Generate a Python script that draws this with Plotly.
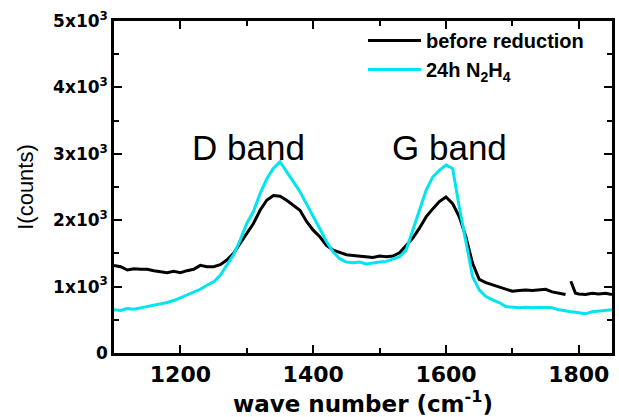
import plotly.graph_objects as go

wavenumber = [1100, 1110, 1120, 1130, 1140, 1150, 1160, 1170, 1180, 1190,
              1200, 1210, 1220, 1230, 1240, 1250, 1260, 1270, 1280, 1290,
              1300, 1310, 1320, 1330, 1340, 1350, 1360, 1370, 1380, 1390,
              1400, 1410, 1420, 1430, 1440, 1450, 1460, 1470, 1480, 1490,
              1500, 1510, 1520, 1530, 1540, 1550, 1560, 1570, 1580, 1590,
              1600, 1610, 1620, 1630, 1640, 1650, 1660, 1670, 1680, 1690,
              1700, 1710, 1720, 1730, 1740, 1750, 1760, 1770, 1780, 1784,
              1788, 1795, 1800, 1810, 1820, 1830, 1840, 1850]

before_reduction = [1320, 1300, 1250, 1270, 1260, 1260, 1240, 1220, 1210, 1230,
                    1210, 1240, 1260, 1320, 1300, 1300, 1330, 1400, 1500, 1650,
                    1800, 1950, 2150, 2300, 2370, 2360, 2300, 2230, 2150, 1980,
                    1850, 1750, 1620, 1550, 1510, 1480, 1470, 1460, 1450, 1440,
                    1460, 1450, 1460, 1510, 1620, 1730, 1880, 2050, 2170, 2280,
                    2350, 2250, 2050, 1750, 1350, 1110, 1060, 1030, 1000, 970,
                    930, 940, 950, 940, 950, 960, 920, 900, 880, None,
                    1080, 900, 890, 880, 900, 890, 900, 880]

n2h4_24h = [650, 640, 670, 660, 680, 700, 720, 730, 760, 790,
            830, 870, 920, 960, 1020, 1070, 1170, 1320, 1480, 1700,
            1950, 2130, 2400, 2620, 2780, 2880, 2720, 2580, 2430, 2250,
            2060, 1870, 1680, 1520, 1420, 1370, 1360, 1370, 1340, 1360,
            1370, 1380, 1410, 1450, 1550, 1850, 2150, 2450, 2650, 2750,
            2830, 2780, 2200, 1650, 1150, 950, 850, 800, 760, 700,
            690, 680, 690, 680, 690, 680, 680, 650, 630, 625,
            620, 615, 610, 590, 620, 630, 640, 650]

y_tickvals = [0, 1000, 2000, 3000, 4000, 5000]
y_ticktext = ["<b>0</b>", "<b>1x10<sup>3</sup></b>", "<b>2x10<sup>3</sup></b>",
              "<b>3x10<sup>3</sup></b>", "<b>4x10<sup>3</sup></b>", "<b>5x10<sup>3</sup></b>"]
x_tickvals = [1200, 1400, 1600, 1800]
x_ticktext = ["<b>1200</b>", "<b>1400</b>", "<b>1600</b>", "<b>1800</b>"]

band_labels = ["D band", "G band"]
band_x = [1302, 1606]
band_y = [3100, 3100]

fig = go.Figure()
fig.add_trace(go.Scatter(x=wavenumber, y=before_reduction, mode="lines",
                         name="<b>before reduction</b>", connectgaps=False,
                         line=dict(color="black", width=3)))
fig.add_trace(go.Scatter(x=wavenumber, y=n2h4_24h, mode="lines",
                         name="<b>24h N<sub>2</sub>H<sub>4</sub></b>",
                         line=dict(color="#00e5f0", width=3)))

for t, bx, by in zip(band_labels, band_x, band_y):
    fig.add_annotation(x=bx, y=by, text=t, showarrow=False,
                       font=dict(family="Liberation Sans, Arial", size=35, color="black"))

fig.update_layout(
    width=619, height=417,
    font=dict(family="DejaVu Sans", size=18, color="black"),
    margin=dict(l=114, r=4, t=21, b=64),
    paper_bgcolor="white", plot_bgcolor="white",
    showlegend=True,
    legend=dict(x=0.5, y=1.0, xanchor="left", yanchor="top",
                bgcolor="rgba(0,0,0,0)", itemwidth=53,
                font=dict(family="Liberation Sans, Arial", size=20, color="black"),
                tracegroupgap=0),
    xaxis=dict(range=[1100, 1850], tickvals=x_tickvals, ticktext=x_ticktext,
               showline=True, linecolor="black", linewidth=2.5, mirror="allticks",
               ticks="inside", ticklen=8, tickwidth=2, tickcolor="black",
               minor=dict(dtick=100, tick0=1100, ticks="inside", ticklen=5, tickwidth=2, tickcolor="black"),
               showgrid=False, zeroline=False,
               tickfont=dict(family="DejaVu Sans", size=22, color="black"),
               title=dict(text="<b>wave number (cm<sup>-1</sup>)</b>", standoff=2,
                          font=dict(family="DejaVu Sans", size=23, color="black"))),
    yaxis=dict(range=[0, 5000], tickvals=y_tickvals, ticktext=y_ticktext,
               showline=True, linecolor="black", linewidth=2.5, mirror="allticks",
               ticks="inside", ticklen=8, tickwidth=2, tickcolor="black",
               minor=dict(dtick=500, tick0=0, ticks="inside", ticklen=5, tickwidth=2, tickcolor="black"),
               showgrid=False, zeroline=False,
               tickfont=dict(family="DejaVu Sans", size=17, color="black"),
               title=dict(text="I(counts)", standoff=14,
                          font=dict(family="Liberation Sans, Arial", size=22, color="black"))),
)

fig.write_html("out.html")
